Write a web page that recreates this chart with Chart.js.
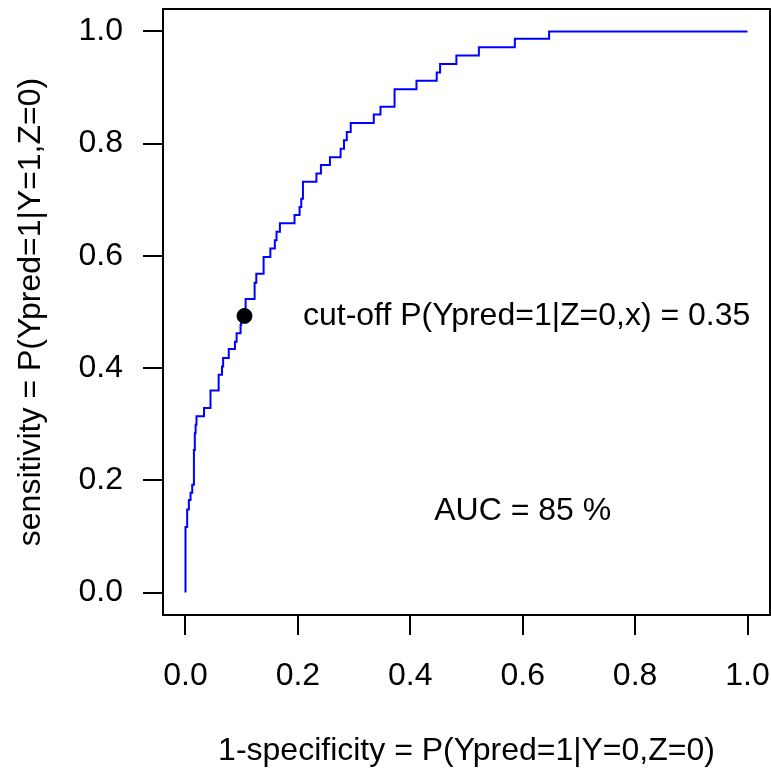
<!DOCTYPE html>
<html>
<head>
<meta charset="utf-8">
<script src="https://cdn.jsdelivr.net/npm/chart.js@4/dist/chart.umd.min.js"></script>
<style>
  html, body { margin: 0; padding: 0; background: #fff; }
  #wrap { width: 771px; height: 770px; }
</style>
</head>
<body>
<div id="wrap"><canvas id="c" width="771" height="770"></canvas></div>
<script>
// ROC curve vertices: false positive rate (1-specificity) and true positive rate (sensitivity)
const fpr = [0, 0, 0.003, 0.006, 0.009, 0.012, 0.015, 0.0166, 0.018, 0.0196, 0.033, 0.0445, 0.059, 0.065, 0.067, 0.077, 0.088, 0.091, 0.098, 0.099, 0.107, 0.123, 0.126, 0.139, 0.151, 0.159, 0.162, 0.168, 0.194, 0.203, 0.206, 0.209, 0.233, 0.241, 0.257, 0.276, 0.282, 0.287, 0.294, 0.335, 0.347, 0.372, 0.411, 0.447, 0.453, 0.482, 0.522, 0.586, 0.647, 1.0];
const tpr = [0, 0.117, 0.148, 0.165, 0.178, 0.192, 0.254, 0.284, 0.299, 0.314, 0.329, 0.360, 0.388, 0.403, 0.418, 0.434, 0.447, 0.462, 0.477, 0.492, 0.523, 0.552, 0.568, 0.598, 0.613, 0.628, 0.643, 0.658, 0.673, 0.687, 0.702, 0.732, 0.747, 0.762, 0.776, 0.791, 0.806, 0.821, 0.837, 0.852, 0.866, 0.897, 0.912, 0.927, 0.942, 0.957, 0.972, 0.987, 1.0, 1.0];
// cut-off point on the curve
const cutoffPoint = [{ x: 0.105, y: 0.493 }];
const cutoffLabel = "cut-off P(Ypred=1|Z=0,x) = 0.35";
const aucLabel = "AUC = 85 %";
const tickValues = [0, 0.2, 0.4, 0.6, 0.8, 1.0];
const xTitle = "1-specificity = P(Ypred=1|Y=0,Z=0)";
const yTitle = "sensitivity = P(Ypred=1|Y=1,Z=0)";

const FONT = "'Liberation Sans', Arial, sans-serif";
const FSIZE = 32;
const rocData = fpr.map((v, i) => ({ x: v, y: tpr[i] }));

const boxPlugin = {
  id: 'box',
  afterDraw(chart) {
    const { ctx, chartArea: a, scales } = chart;
    ctx.save();
    ctx.strokeStyle = '#000';
    ctx.lineWidth = 2;
    ctx.strokeRect(a.left, a.top, a.right - a.left, a.bottom - a.top);
    ctx.fillStyle = '#000';
    ctx.font = FSIZE + 'px ' + FONT;
    ctx.textAlign = 'center';
    ctx.textBaseline = 'middle';
    ctx.fillText(cutoffLabel, scales.x.getPixelForValue(0.607), scales.y.getPixelForValue(0.493));
    ctx.fillText(aucLabel, scales.x.getPixelForValue(0.6), scales.y.getPixelForValue(0.145));
    ctx.restore();
  }
};

const tickOpts = (pad) => ({
  font: { family: FONT, size: FSIZE },
  color: '#000',
  padding: pad,
  maxRotation: 0,
  autoSkip: false,
  callback: (v) => Number(v).toFixed(1)
});

new Chart(document.getElementById('c'), {
  type: 'scatter',
  data: {
    datasets: [
      {
        data: cutoffPoint,
        pointRadius: 7.5,
        pointBackgroundColor: '#000',
        pointBorderColor: '#000',
        showLine: false,
        order: 0
      },
      {
        data: rocData,
        showLine: true,
        stepped: 'before',
        borderColor: '#0000ff',
        borderWidth: 2,
        pointRadius: 0,
        fill: false,
        order: 1
      }
    ]
  },
  options: {
    responsive: false,
    animation: false,
    events: [],
    layout: { autoPadding: false, padding: { top: 9, right: 1, left: 0, bottom: 0 } },
    plugins: { legend: { display: false }, tooltip: { enabled: false } },
    scales: {
      x: {
        type: 'linear',
        min: -0.04, max: 1.04,
        afterBuildTicks: (s) => { s.ticks = tickValues.map(v => ({ value: v })); },
        afterFit: (s) => { s.height = 155; s.paddingLeft = 0; s.paddingRight = 0; },
        grid: { display: true, drawOnChartArea: false, drawTicks: true, tickLength: 20, color: '#000', lineWidth: 2 },
        border: { display: false },
        ticks: tickOpts(22),
        title: { display: true, text: xTitle, font: { family: FONT, size: FSIZE }, color: '#000', padding: { top: 0, bottom: 0 } }
      },
      y: {
        type: 'linear',
        min: -0.04, max: 1.04,
        afterBuildTicks: (s) => { s.ticks = tickValues.map(v => ({ value: v })); },
        afterFit: (s) => { s.width = 163; s.paddingTop = 0; s.paddingBottom = 0; },
        grid: { display: true, drawOnChartArea: false, drawTicks: true, tickLength: 20, color: '#000', lineWidth: 2 },
        border: { display: false },
        ticks: tickOpts(20),
        title: { display: true, text: yTitle, font: { family: FONT, size: FSIZE }, color: '#000', padding: { top: 12, bottom: 0 } }
      }
    }
  },
  plugins: [boxPlugin]
});
</script>
</body>
</html>
